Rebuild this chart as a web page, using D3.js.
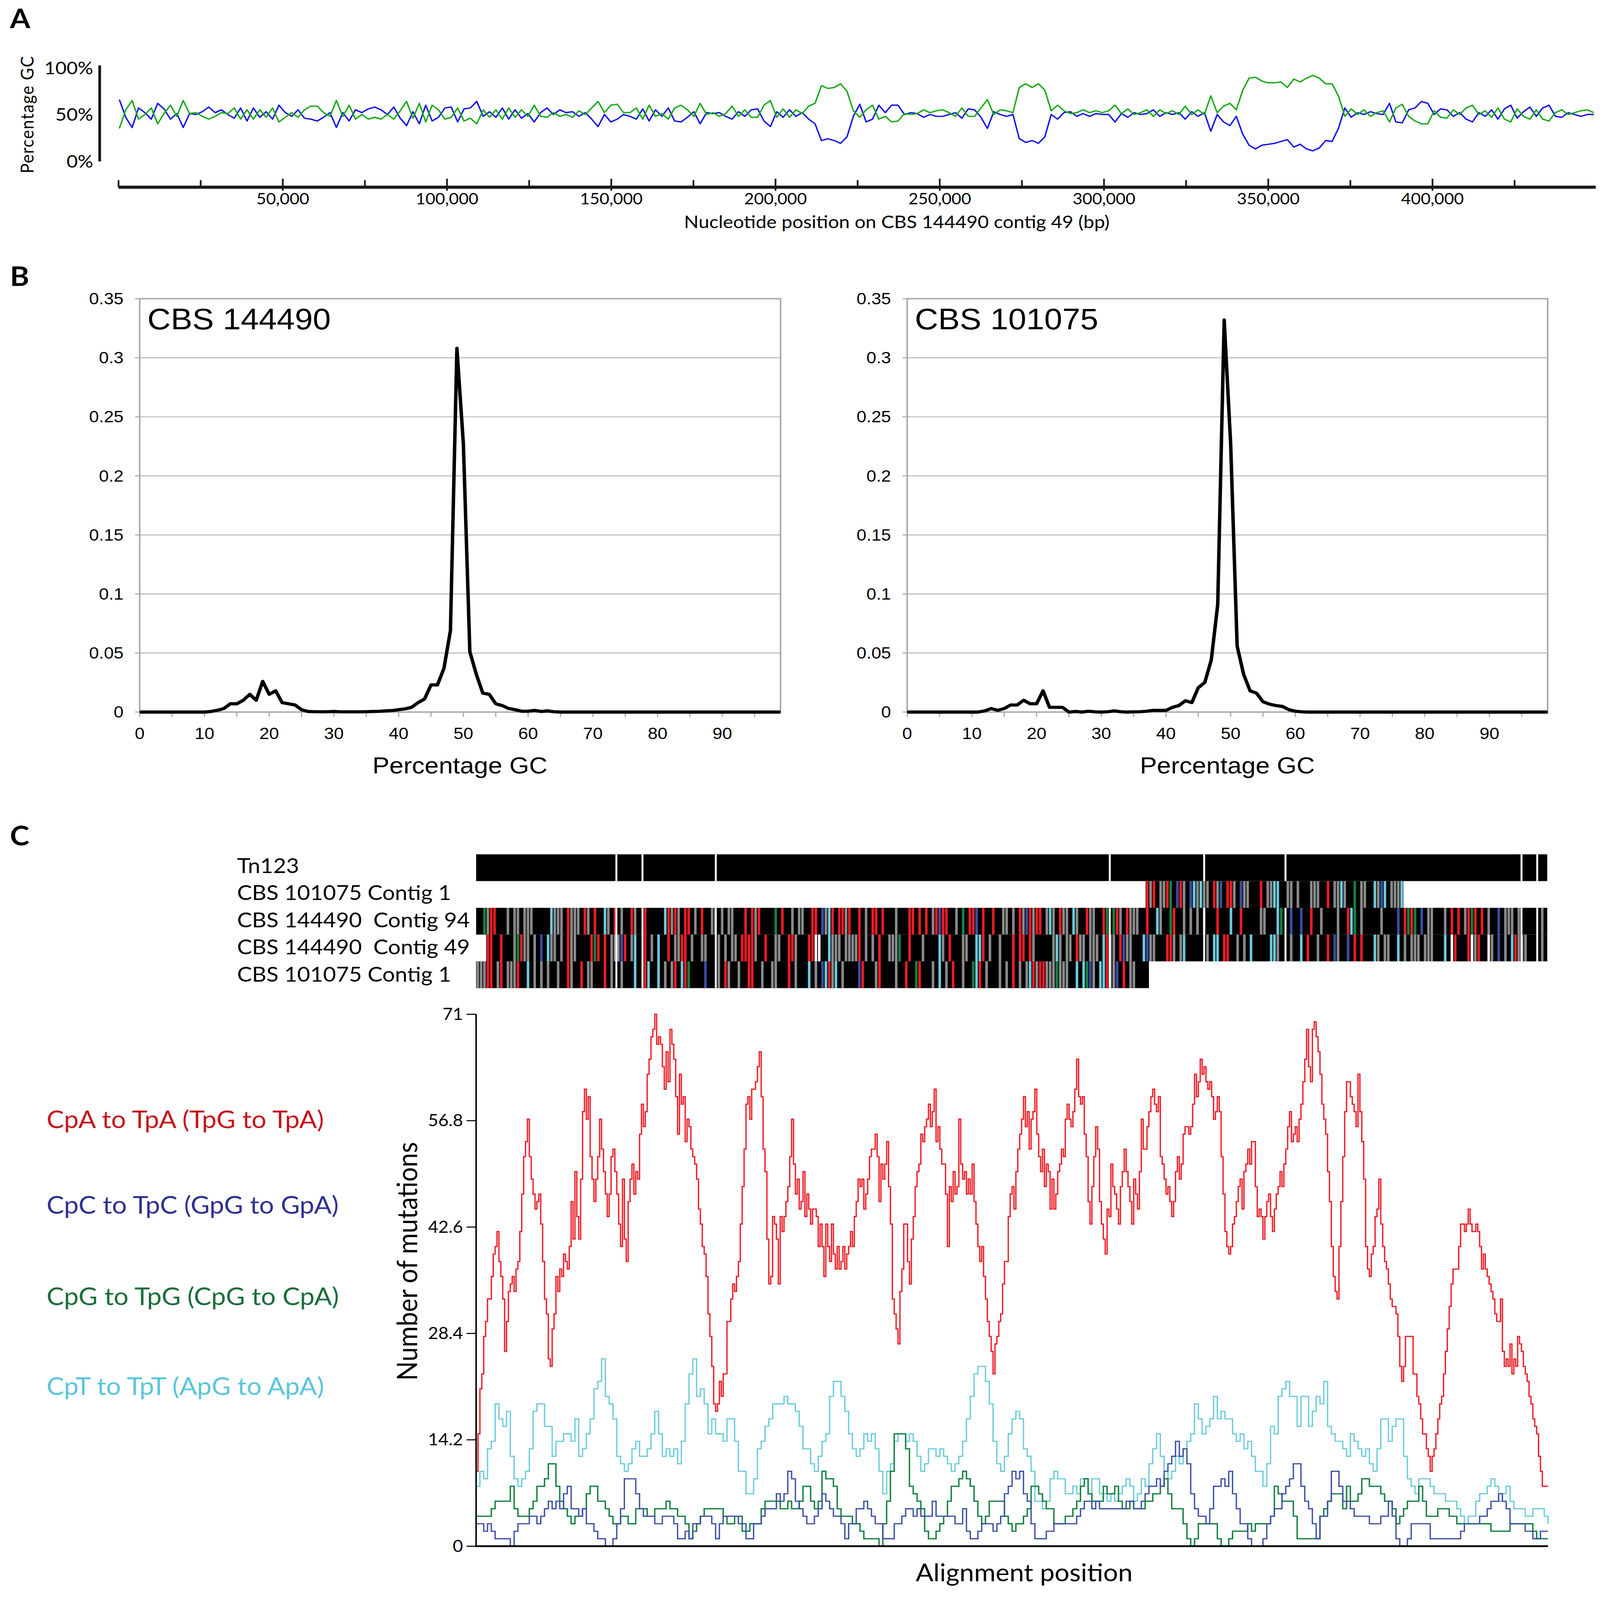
<!DOCTYPE html>
<html><head><meta charset="utf-8">
<script src="https://cdn.jsdelivr.net/npm/d3@7"></script>
<style>html,body{margin:0;padding:0;background:#fff;overflow:hidden}svg{display:block;background:#fff}</style>
</head><body>
<svg id="chart" xmlns="http://www.w3.org/2000/svg"></svg>
<script>
// ---------------- DATA ----------------
// Panel A: GC percentage in sliding windows along CBS 144490 contig 49
const gcWindowStart = 250;      // bp of first window
const gcWindowStep = 1943;      // bp between windows
const gcGreen = [35,55,65,45,50,57,40,51,60,48,65,51,52,48,45,48,52,51,57,45,55,45,55,47,57,42,47,52,47,55,59,59,52,48,65,48,60,45,50,45,47,45,50,45,54,64,46,62,42,60,55,45,47,57,43,46,40,55,47,55,45,57,47,55,48,60,48,47,52,48,50,47,54,50,57,64,52,60,
61,52,52,57,45,60,48,51,45,57,60,55,48,62,50,52,48,51,59,48,55,47,47,60,65,47,56,47,55,51,59,62,81,78,79,83,75,54,47,55,60,45,48,42,43,51,50,51,55,52,54,55,52,48,57,48,48,57,66,50,55,54,52,79,83,79,83,76,54,60,54,51,52,55,52,54,52,
54,60,51,56,50,52,55,48,55,51,54,50,59,50,55,50,70,52,59,62,55,76,89,90,86,84,84,85,79,88,85,89,92,89,83,83,70,48,56,50,55,48,52,54,42,57,61,48,43,40,40,54,47,46,55,50,57,60,50,54,47,57,45,42,56,48,45,55,45,43,52,55,50,52,54,55,52];
const gcBlue = [66,47,36,57,52,45,62,56,45,51,36,51,50,53,58,52,55,50,46,57,43,57,47,53,45,60,52,48,55,46,45,43,47,52,36,52,43,55,52,56,58,55,50,58,46,38,53,40,60,43,47,57,58,42,56,57,64,48,53,47,57,45,55,46,51,42,52,57,50,55,52,53,48,52,45,37,50,42,
45,50,48,45,56,43,55,48,57,43,42,47,53,40,52,51,52,48,45,53,48,55,56,43,37,53,47,55,48,52,45,40,22,24,22,19,26,48,61,42,45,60,52,60,60,50,52,51,47,50,48,48,50,52,46,56,55,47,35,53,50,48,50,24,20,22,19,26,50,45,52,53,48,51,48,51,50,
50,42,51,47,52,50,51,55,48,52,50,52,45,53,48,52,32,50,42,38,48,29,17,13,17,18,19,21,23,15,18,13,11,14,22,21,35,57,47,52,50,53,51,50,62,42,41,55,57,64,62,50,56,55,48,52,45,42,52,48,55,45,56,60,46,53,58,48,57,60,48,47,52,50,48,50,50];
const gcAxisTicks = [0,25000,50000,75000,100000,125000,150000,175000,200000,225000,250000,275000,300000,325000,350000,375000,400000,425000];
const gcAxisLabelValues = [50000,100000,150000,200000,250000,300000,350000,400000];
const gcAxisLabels = ["50,000","100,000","150,000","200,000","250,000","300,000","350,000","400,000"];
const gcYTicks = [0,50,100];
const gcYLabels = ["0%","50%","100%"];

// Panel B: GC content distributions (fraction of windows per % GC, 0..99)
const histGC = d3.range(0, 100);
const hist144490 = [0,0,0,0,0,0,0,0,0,0,0,0.0005,0.0015,0.003,0.007,0.007,0.010,0.015,0.010,0.026,
0.015,0.018,0.008,0.007,0.006,0.002,0.0005,0.0003,0.0002,0.0003,0.0005,0.0002,0.0002,0.0002,0.0002,0.0003,0.0005,0.0006,0.001,0.0013,
0.002,0.0027,0.004,0.008,0.011,0.023,0.023,0.037,0.069,0.308,0.227,0.051,0.032,0.016,0.015,0.007,0.0055,0.003,0.002,0.0007,
0.0007,0.0014,0.0005,0.001,0.0003,0,0,0,0,0,0,0,0,0,0,0,0,0,0,0,0,0,0,0,0,0,0,0,0,0,0,0,0,0,0,0,0,0,0,0];
const hist101075 = [0,0,0,0,0,0,0,0,0,0,0,0,0.001,0.003,0.0015,0.003,0.006,0.006,0.010,0.007,
0.007,0.018,0.004,0.004,0.004,0,0.0005,0,0.0007,0.0002,0,0.0003,0.001,0.0003,0,0.0002,0.0003,0.0007,0.0014,0.0014,
0.0014,0.004,0.0055,0.0096,0.008,0.0207,0.025,0.044,0.091,0.332,0.227,0.056,0.032,0.018,0.016,0.0087,0.0067,0.0055,0.0048,0.002,
0.0007,0.0002,0,0,0,0,0,0,0,0,0,0,0,0,0,0,0,0,0,0,0,0,0,0,0,0,0,0,0,0,0,0,0,0,0,0,0,0,0,0];
const histYTicks = [0,0.05,0.1,0.15,0.2,0.25,0.3,0.35];
const histYLabels = ["0","0.05","0.1","0.15","0.2","0.25","0.3","0.35"];
const histXTicks = [0,10,20,30,40,50,60,70,80,90];
const histTitles = ["CBS 144490","CBS 101075"];

// Panel C: alignment tracks (one code per alignment column: k black, g gray, r red, c cyan, b blue, n green, w white, . none)
const trackNames = ["Tn123","CBS 101075 Contig 1","CBS 144490  Contig 94","CBS 144490  Contig 49","CBS 101075 Contig 1"];
const trackColumns = 320;
const tnGaps = [41.9,49.7,71.6,189.3,217.5,241.8,312.3,317.0];
const trackStarts = [0,200,0,0,0];
const trackTn = "k".repeat(320);
const trackC1top = "rgrkggrnkb"+"rgkbcgcggk"+"rgbkrrgkbg"+"gkkkrkggcc"+"kkggkgkkkg"+"ggkkrkggcg"+"kknkggkkcg"+"bckgggc";
const trackC94 = "kkngrrkkkg"+"kggkgggkkk"+"kkcgggkrgg"+"gkrgkrkkcg"+"krkgkkrgkk"+"rkkkkkcrgr"+"gkrrkgkrkk"+"ggkgkggkkk"+"rkrgrkkkkn"+"krkkgkggkk"+"rrkbgcrkrr"+"grkkrkgkrr"+"krkkkgkkkr"+"rkrkrkgrbr"+"rkkgknkrrb"+"krkkrkkggk"+"gkrgbrgrrk"+"gcgkrggkcg"+"kkrggkkrnk"+"nrgkrgggkk"+"rkkcgkknrk"+"kgkgkgkgkk"+"krkkkckkrk"+"kkkkggkkkc"+"nkkbkkbkkr"+"kkgkkkkgkk"+"rcnkgkkkkk"+"gkkkkbkrnr"+"nkbkggkkkg"+"krkrkgrnrk"+"rkgkkbkggg"+"kgkkkkkkgk";
const trackC49 = "...rrkkrkk"+"kgnrggkgkb"+"kcggkgkrgg"+"kkkkrnrkrk"+"gggbrkgckk"+"rkgkckkrkg"+"grrkgkkggk"+"kkgkgkggkr"+"rrrgkkrkkg"+"gkkrrgkkkr"+"rwwkkcgggk"+"ggggrkgkgk"+"rkkgggnkkr"+"kkkgkkkkcg"+"krkkkggkkc"+"crkgkkgkkk"+"rkrrkrgkkk"+"kkgcgkggkr"+"ggkgggkcrg"+"gkrbggkkkc"+"bggkkkrrgk"+"gckkkkkkgk"+"cckrrkkgkg"+"kckkkkkccg"+"kkkgkkckrk"+"kgkkrkbgkk"+"bkrkrkkkcg"+"kggkkckgkg"+"ggkgggkkkc"+"kwrkkkrwgr"+"kkwgkbkgkc"+"rgggkkkkgk";
const trackC1bot = "gggrrkgrkg"+"ggrkkckgkg"+"kgkkgkkrgk"+"krkggkkkrk"+"gkkgkkkckk"+"rckkckgkgr"+"kcrnkkkkbk"+"kkgkrgkkgk"+"krrkkgkkgg"+"kkkrkgkkkc"+"kgkbcrgckg"+"kkkkbrkkkg"+"rkkkkgkkrk"+"knrkkkgkck"+"gkrkkgkknc"+"rkgkkkgkgk"+"rkgkgcrgrr"+"gggngggkkc"+"kcnbgkccrg"+"gbkrkggkkk"+"k";
const trackCodes = [trackTn, trackC1top, trackC94, trackC49, trackC1bot];

// Panel C: mutation counts in sliding windows along the alignment
const alnStepRed = 10, alnStepOther = 20, alnLength = 5640;
const mutCpA = [10,15,21,23,28,30,33,33,36,39,40,42,38,36,33,26,30,34,35,36,34,37,38,42,47,52,54,57,52,49,47,45,46,47,43,38,33,31,25,24,
29,31,36,34,37,36,39,38,37,40,46,41,50,44,41,49,58,61,57,60,52,49,46,49,52,57,53,50,47,44,47,52,53,50,47,43,40,49,41,38,
46,49,51,47,50,49,55,59,56,58,63,65,68,69,71,67,68,67,64,61,66,62,69,67,65,60,55,63,59,60,54,57,56,53,52,51,49,45,43,40,
39,36,31,28,24,19,18,19,22,20,23,23,30,30,33,35,34,36,38,43,48,53,59,60,57,61,61,62,64,66,60,53,50,41,35,36,44,43,41,35,
44,42,44,46,48,52,57,51,47,49,45,46,50,44,47,45,43,45,45,44,40,43,40,36,43,40,38,43,39,37,40,37,38,40,37,39,40,42,40,44,
46,49,48,49,45,47,49,52,53,53,55,52,46,51,49,51,54,48,43,33,31,29,27,34,37,43,43,38,35,41,44,48,50,51,55,54,56,57,59,56,
58,61,54,56,53,51,51,47,40,48,46,50,47,48,57,51,49,50,47,49,47,51,46,43,40,38,
40,36,33,30,28,26,23,27,28,30,31,35,38,38,44,47,48,45,50,53,55,57,60,56,58,53,57,58,61,55,52,50,53,48,51,50,45,49,45,47,
50,51,53,52,57,59,57,56,58,61,65,60,59,60,55,52,46,43,48,52,56,53,46,43,41,39,45,44,51,48,47,45,43,48,50,53,50,48,46,43,
49,47,45,50,57,53,53,56,58,60,61,59,58,60,52,51,49,47,48,46,44,46,50,52,49,51,55,56,56,55,56,59,63,60,62,65,63,64,62,61,
62,60,57,58,60,58,52,47,42,40,39,40,43,44,46,48,49,45,50,51,53,51,54,54,48,44,45,44,41,44,46,47,44,42,45,47,48,50,48,51,
53,56,58,54,55,56,54,57,59,62,65,69,64,62,69,70,68,66,63,59,57,55,50,46,40,36,34,33,40,46,52,58,62,62,60,59,58,56,63,58,
54,49,40,37,36,39,40,44,45,49,43,40,38,37,35,33,32,32,31,28,24,22,24,28,28,28,28,23,23,20,19,17,15,15,13,12,10,12,13,15,
17,19,20,23,26,29,32,35,37,37,37,40,43,43,42,43,45,43,42,42,43,42,40,37,39,37,36,35,34,33,31,30,30,33,26,24,25,24,27,23,
25,24,28,27,26,24,23,22,20,19,17,16,15,12,10,8,8,8,8];
const mutCpT = [8,10,9,13,14,19,17,16,18,12,9,8,9,10,13,18,19,19,16,16,12,14,14,15,15,14,17,12,13,15,17,21,22,25,20,19,17,12,11,10,
11,13,14,12,12,13,15,18,15,12,13,12,13,11,14,19,23,25,20,21,19,15,17,15,15,14,17,17,14,10,10,7,7,9,13,14,16,17,19,19,
19,20,19,19,18,16,13,13,11,10,12,14,15,20,22,22,20,18,15,13,12,13,15,14,15,13,10,7,10,11,14,15,15,14,15,14,12,10,11,13,
13,12,13,12,11,10,11,12,14,17,20,23,24,
24,22,19,14,11,10,12,15,17,18,17,13,12,10,6,6,5,6,9,10,9,9,7,7,8,7,9,9,7,9,9,7,7,6,7,6,7,8,9,8,
6,7,9,8,11,13,15,12,10,9,10,12,11,13,14,15,19,17,15,16,17,20,17,18,17,17,15,14,15,13,14,12,10,10,8,11,16,15,20,21,
22,20,20,16,20,20,16,18,20,19,22,16,15,14,14,13,12,15,14,13,12,13,11,10,13,17,17,14,16,17,17,12,9,8,7,9,9,9,8,7,
7,7,6,6,6,5,4,3,4,4,6,7,7,8,9,8,6,7,8,6,5,5,5,4,4,5,5,5,4,3];
const mutCpG = [4,4,4,4,5,6,6,6,6,8,5,4,4,4,5,6,8,8,9,11,11,8,6,5,4,3,4,4,5,7,8,8,6,6,5,4,3,3,4,4,
3,3,5,5,5,4,4,5,5,5,6,5,5,4,4,3,1,2,3,4,5,5,5,5,5,4,3,3,4,4,2,2,3,3,3,5,6,6,6,6,
5,5,6,5,5,6,8,8,6,5,6,10,9,9,8,5,4,4,4,3,3,2,1,1,1,1,0,3,6,10,15,15,15,13,8,7,6,5,2,1,
1,2,3,4,6,8,8,9,10,9,8,6,4,
3,4,6,6,6,6,4,3,2,3,3,4,5,8,8,7,6,5,5,3,3,3,4,4,5,6,8,9,7,6,6,6,8,7,7,8,6,5,5,6,
5,5,5,6,6,7,7,8,9,7,5,5,5,3,1,0,1,3,3,3,3,3,1,0,0,1,2,2,2,2,3,2,3,3,3,3,4,8,7,6,
6,6,4,1,1,1,1,1,1,4,5,6,7,7,7,5,8,6,6,7,9,9,8,8,8,7,6,6,5,3,4,5,6,6,6,8,6,4,4,4,
5,5,5,4,4,3,3,3,3,3,3,3,3,3,2,2,2,2,2,3,3,3,3,3,3,2,1,1,1,1];
const mutCpC = [3,3,2,3,2,1,1,1,1,0,2,3,3,3,4,4,3,4,5,6,5,6,5,7,8,5,5,4,5,3,3,2,1,1,0,0,1,3,5,9,
9,9,7,5,4,4,4,3,3,4,4,4,3,1,1,2,1,3,3,4,4,4,3,1,3,4,4,4,4,3,3,1,1,3,3,4,5,5,5,7,
6,7,10,9,6,5,4,3,3,4,5,7,6,5,4,4,3,1,3,3,5,5,6,5,4,3,3,1,1,1,3,3,4,5,5,4,5,4,4,4,
6,4,4,4,4,4,3,3,5,2,1,1,2,
3,3,3,2,3,4,7,8,10,9,10,7,6,3,1,1,1,2,2,3,3,3,3,3,3,4,5,6,6,5,6,5,5,5,5,5,5,5,6,6,
5,5,6,7,8,8,9,8,10,11,12,14,12,13,11,7,5,4,4,3,5,8,8,9,8,10,7,5,3,3,1,0,0,0,1,3,4,5,5,7,
8,9,11,11,8,6,5,3,1,4,4,6,10,10,8,6,6,5,4,4,4,4,3,3,3,4,4,6,4,1,0,0,1,3,3,3,3,3,1,1,
1,1,1,1,1,1,2,3,3,3,3,4,4,5,6,6,7,6,5,3,3,3,3,2,2,1,1,2,2,2];
const mutYTicks = [0,14.2,28.4,42.6,56.8,71];
const mutYLabels = ["0","14.2","28.4","42.6","56.8","71"];
const legendLabels = ["CpA to TpA (TpG to TpA)","CpC to TpC (GpG to GpA)","CpG to TpG (CpG to CpA)","CpT to TpT (ApG to ApA)"];

// ---------------- STYLE ----------------
const W = 4157, H = 4521;
const FONT = "Lato, 'Open Sans', 'Noto Sans', sans-serif";
const ARIAL = "'Liberation Sans', Arial, sans-serif";
const vw = Math.min(window.innerWidth || W, W);
const vh = Math.min(window.innerHeight || H, H);
const svg = d3.select("#chart")
  .attr("width", vw).attr("height", vh)
  .attr("viewBox", "0 0 " + W + " " + H)
  .attr("preserveAspectRatio", "none");

// panel letters
[["A",80],["B",808],["C",2388]].forEach(([t,y]) => {
  svg.append("text").attr("x",26).attr("y",y).text(t)
    .attr("font-family",FONT).attr("font-weight","bold").attr("font-size",76).attr("fill","#000");
});

// ---------------- PANEL A ----------------
(function(){
  const g = svg.append("g");
  const x = d3.scaleLinear().domain([0, 449000]).range([308, 4140]);
  const y = d3.scaleLinear().domain([0, 100]).range([455, 192]);
  const line = d3.line().x((d,i)=>x(gcWindowStart + i*gcWindowStep)).y(d=>y(d));
  g.append("path").datum(gcBlue).attr("d",line).attr("fill","none")
    .attr("stroke","#1414e6").attr("stroke-width",3.8).attr("stroke-linejoin","round");
  g.append("path").datum(gcGreen).attr("d",line).attr("fill","none")
    .attr("stroke","#1aa81a").attr("stroke-width",3.8).attr("stroke-linejoin","round");
  // y axis
  g.append("line").attr("x1",259).attr("x2",259).attr("y1",y(100)-7).attr("y2",y(0)+1)
    .attr("stroke","#111").attr("stroke-width",7);
  g.selectAll(".ylab").data(gcYTicks).enter().append("text")
    .attr("x",242).attr("y",d=>y(d)+18).attr("text-anchor","end")
    .attr("font-family",FONT).attr("font-size",50).text((d,i)=>gcYLabels[i]);
  g.append("text").attr("transform","translate(87,"+y(50)+") rotate(-90)")
    .attr("text-anchor","middle").attr("font-family",FONT).attr("font-size",47)
    .attr("letter-spacing",2).text("Percentage GC");
  // x axis
  const axY = 529;
  g.append("line").attr("x1",308).attr("x2",4146).attr("y1",axY).attr("y2",axY)
    .attr("stroke","#1a1a1a").attr("stroke-width",9);
  g.selectAll(".xt").data(gcAxisTicks).enter().append("line")
    .attr("x1",d=>x(d)).attr("x2",d=>x(d))
    .attr("y1",d=> (d%50000===0 && d>0) ? axY-24 : axY-20)
    .attr("y2",d=> (d%50000===0 && d>0) ? axY+10 : axY)
    .attr("stroke","#1a1a1a").attr("stroke-width",4.5);
  g.selectAll(".xl").data(gcAxisLabelValues).enter().append("text")
    .attr("x",d=>x(d)).attr("y",577).attr("text-anchor","middle")
    .attr("font-family",FONT).attr("font-size",44).text((d,i)=>gcAxisLabels[i]);
  g.append("text").attr("x",2330).attr("y",645).attr("text-anchor","middle")
    .attr("font-family",FONT).attr("font-size",50)
    .text("Nucleotide position on CBS 144490 contig 49 (bp)");
})();

// ---------------- PANEL B ----------------
function histPanel(values, x0, x1, title, xLabelCenter) {
  const g = svg.append("g");
  const x = d3.scaleLinear().domain([0, 99]).range([x0, x1]);
  const y = d3.scaleLinear().domain([0, 0.35]).range([2012, 844]);
  g.selectAll(".grid").data(histYTicks.slice(1, -1)).enter().append("line")
    .attr("x1",x0).attr("x2",x1).attr("y1",d=>y(d)).attr("y2",d=>y(d))
    .attr("stroke","#bcbcbc").attr("stroke-width",3);
  g.append("rect").attr("x",x0).attr("y",y(0.35)).attr("width",x1-x0).attr("height",y(0)-y(0.35))
    .attr("fill","none").attr("stroke","#a8a8a8").attr("stroke-width",4);
  g.selectAll(".yt").data(histYTicks).enter().append("line")
    .attr("x1",x0-12).attr("x2",x0).attr("y1",d=>y(d)).attr("y2",d=>y(d))
    .attr("stroke","#a8a8a8").attr("stroke-width",3);
  g.selectAll(".xt").data(d3.range(0,100,5)).enter().append("line")
    .attr("x1",d=>x(d)).attr("x2",d=>x(d)).attr("y1",y(0)).attr("y2",y(0)+14)
    .attr("stroke","#a8a8a8").attr("stroke-width",3);
  g.selectAll(".yl").data(histYTicks).enter().append("text")
    .attr("x",x0-42).attr("y",d=>y(d)+16).attr("text-anchor","end")
    .attr("font-family",ARIAL).attr("font-size",46).text((d,i)=>histYLabels[i]);
  g.selectAll(".xl").data(histXTicks).enter().append("text")
    .attr("x",d=>x(d)).attr("y",2088).attr("text-anchor","middle")
    .attr("font-family",ARIAL).attr("font-size",46).text(d=>d);
  const line = d3.line().x((d,i)=>x(histGC[i])).y(d=>y(d));
  g.append("path").datum(values).attr("d",line).attr("fill","none")
    .attr("stroke","#000").attr("stroke-width",9).attr("stroke-linejoin","round");
  g.append("text").attr("x",x0+20).attr("y",931).attr("font-family",ARIAL)
    .attr("font-size",84).text(title);
  g.append("text").attr("x",xLabelCenter).attr("y",2186).attr("text-anchor","middle")
    .attr("font-family",ARIAL).attr("font-size",66).text("Percentage GC");
}
histPanel(hist144490, 363, 2028, histTitles[0], 1195);
histPanel(hist101075, 2357, 4021, histTitles[1], 3189);

// ---------------- PANEL C: tracks ----------------
const colorKey = {g:"#8a8a8a", r:"#ed1c24", c:"#6ccbdb", b:"#3a4ea3", n:"#148040", w:"#ffffff"};
(function(){
  const g = svg.append("g");
  const xT = d3.scaleLinear().domain([0, trackColumns]).range([1237, 4020]);
  const colW = xT(1) - xT(0);
  const rowTop = 2414, rowH = 75.6;
  const labelBase = [2467, 2543, 2620, 2697, 2774];
  trackNames.forEach((name, ti) => {
    g.append("text").attr("x",616).attr("y",labelBase[ti]).attr("font-family",FONT)
      .attr("font-size",58).style("white-space","pre").attr("xml:space","preserve").text(name);
  });
  trackCodes.forEach((code, ti) => {
    const start = trackStarts[ti];
    const cells = code.split("").map((ch, i) => ({ch, col: start + i}));
    const filled = cells.filter(c => c.ch !== ".");
    if (!filled.length) return;
    const c0 = filled[0].col, c1 = filled[filled.length-1].col + 1;
    const y0 = rowTop + ti*rowH;
    g.append("rect").attr("x",xT(c0)).attr("y",y0).attr("width",xT(c1)-xT(c0)).attr("height",rowH)
      .attr("fill","#000");
    g.selectAll(null).data(filled.filter(c => c.ch !== "k")).enter().append("rect")
      .attr("x",d=>xT(d.col)+colW*0.12).attr("y",y0).attr("width",colW*0.76).attr("height",rowH)
      .attr("fill",d=>colorKey[d.ch]);
  });
  // alignment gaps (white breaks) through Tn123 and the lower contigs
  g.selectAll(".gap1").data(tnGaps).enter().append("rect")
    .attr("x",d=>xT(d)-2.5).attr("y",rowTop).attr("width",5).attr("height",rowH).attr("fill","#fff");
  g.selectAll(".gap2").data(tnGaps).enter().append("rect")
    .attr("x",d=>xT(d)-2.5).attr("y",rowTop+2*rowH).attr("width",5).attr("height",rowH*3).attr("fill","#fff");
})();

// ---------------- PANEL C: mutation lines ----------------
(function(){
  const g = svg.append("g");
  const x = d3.scaleLinear().domain([0, alnLength]).range([1237, 4022]);
  const y = d3.scaleLinear().domain([0, 71]).range([4369, 2866]);
  const lineRed = d3.line().x((d,i)=>x(i*alnStepRed)).y(d=>y(d)).curve(d3.curveStepAfter);
  const lineOther = d3.line().x((d,i)=>x(i*alnStepOther)).y(d=>y(d)).curve(d3.curveStepAfter);
  const series = [
    {data: mutCpT, color:"#6ccbdb", line: lineOther, w:3.4},
    {data: mutCpG, color:"#148040", line: lineOther, w:3.6},
    {data: mutCpC, color:"#3a4ea3", line: lineOther, w:3.4},
    {data: mutCpA, color:"#ed1c24", line: lineRed, w:3.4}
  ];
  series.forEach(s => {
    g.append("path").datum(s.data).attr("d", s.line).attr("fill","none")
      .attr("stroke", s.color).attr("stroke-width", s.w);
  });
  // axes
  g.append("line").attr("x1",1237).attr("x2",1237).attr("y1",y(71)).attr("y2",y(0)+2)
    .attr("stroke","#000").attr("stroke-width",4);
  g.append("line").attr("x1",1235).attr("x2",4022).attr("y1",y(0)).attr("y2",y(0))
    .attr("stroke","#000").attr("stroke-width",5);
  g.selectAll(".yt").data(mutYTicks).enter().append("line")
    .attr("x1",1212).attr("x2",1237).attr("y1",d=>y(d)).attr("y2",d=>y(d))
    .attr("stroke","#000").attr("stroke-width",3);
  g.selectAll(".yl").data(mutYTicks).enter().append("text")
    .attr("x",1203).attr("y",d=>y(d)+16).attr("text-anchor","end")
    .attr("font-family",FONT).attr("font-size",46).text((d,i)=>mutYLabels[i]);
  g.append("text").attr("transform","translate(1084,3564) rotate(-90)")
    .attr("text-anchor","middle").attr("font-family",FONT).attr("font-size",72)
    .text("Number of mutations");
  g.append("text").attr("x",2661).attr("y",4468).attr("text-anchor","middle")
    .attr("font-family",FONT).attr("font-size",68).text("Alignment position");
  // legend
  const legendColors = ["#c4161c","#2e3192","#1b6e3a","#5bc5d9"];
  const legendBase = [3188, 3429, 3688, 3941];
  legendLabels.forEach((t,i)=>{
    g.append("text").attr("x",121).attr("y",legendBase[i]).attr("font-family",FONT)
      .attr("font-size",68).attr("fill",legendColors[i]).text(t);
  });
})();
</script>
</body></html>
